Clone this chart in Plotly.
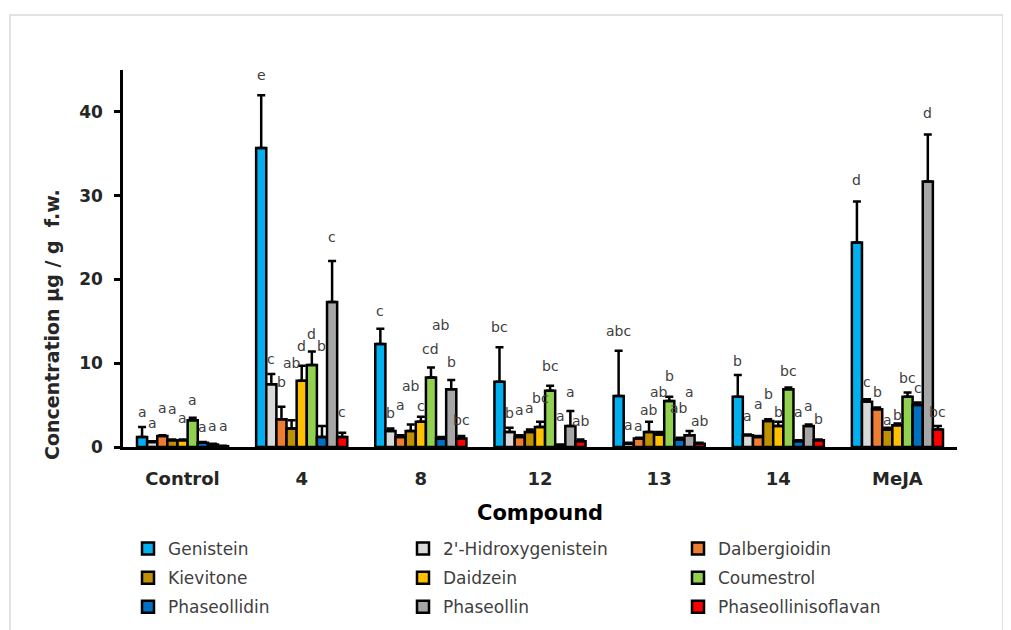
import plotly.graph_objects as go

categories = ["Control", "4", "8", "12", "13", "14", "MeJA"]
series = ["Genistein", "2'-Hidroxygenistein", "Dalbergioidin", "Kievitone", "Daidzein",
          "Coumestrol", "Phaseollidin", "Phaseollin", "Phaseollinisoflavan"]

genistein = [1.2, 35.7, 12.3, 7.8, 6.1, 6.0, 24.4]
hidroxygenistein = [0.6, 7.5, 1.9, 1.8, 0.4, 1.4, 5.4]
dalbergioidin = [1.3, 3.3, 1.2, 1.2, 1.0, 1.2, 4.5]
kievitone = [0.8, 2.2, 1.9, 1.8, 1.8, 3.1, 2.1]
daidzein = [0.8, 7.9, 3.0, 2.4, 1.5, 2.5, 2.6]
coumestrol = [3.2, 9.8, 8.3, 6.7, 5.5, 6.9, 6.0]
phaseollidin = [0.5, 1.2, 1.0, 0.2, 0.9, 0.7, 5.0]
phaseollin = [0.3, 17.3, 6.9, 2.5, 1.4, 2.5, 31.7]
phaseollinisoflavan = [0.1, 1.2, 1.0, 0.7, 0.4, 0.8, 2.1]

err_genistein = [1.2, 6.3, 1.8, 4.1, 5.4, 2.6, 4.9]
err_hidroxygenistein = [0.1, 1.2, 0.3, 0.5, 0.1, 0.1, 0.3]
err_dalbergioidin = [0.1, 1.5, 0.2, 0.2, 0.1, 0.1, 0.2]
err_kievitone = [0.1, 1.0, 0.8, 0.3, 1.2, 0.2, 0.2]
err_daidzein = [0.1, 1.8, 0.6, 0.6, 0.3, 0.5, 0.2]
err_coumestrol = [0.3, 1.6, 1.2, 0.6, 0.5, 0.2, 0.5]
err_phaseollidin = [0.1, 1.3, 0.2, 0.1, 0.2, 0.1, 0.3]
err_phaseollin = [0.1, 4.9, 1.1, 1.8, 0.5, 0.2, 5.6]
err_phaseollinisoflavan = [0.05, 0.5, 0.3, 0.2, 0.1, 0.1, 0.4]

let_genistein = ["a", "e", "c", "bc", "abc", "b", "d"]
let_hidroxygenistein = ["a", "c", "b", "b", "a", "a", "c"]
let_dalbergioidin = ["a", "b", "a", "a", "a", "a", "b"]
let_kievitone = ["a", "ab", "ab", "a", "ab", "b", "a"]
let_daidzein = ["a", "d", "c", "bc", "ab", "b", "b"]
let_coumestrol = ["a", "d", "cd", "bc", "b", "bc", "bc"]
let_phaseollidin = ["a", "b", "ab", "a", "ab", "a", "c"]
let_phaseollin = ["a", "c", "b", "a", "a", "a", "d"]
let_phaseollinisoflavan = ["a", "c", "bc", "ab", "ab", "b", "bc"]

values = [genistein, hidroxygenistein, dalbergioidin, kievitone, daidzein,
          coumestrol, phaseollidin, phaseollin, phaseollinisoflavan]
errors = [err_genistein, err_hidroxygenistein, err_dalbergioidin, err_kievitone, err_daidzein,
          err_coumestrol, err_phaseollidin, err_phaseollin, err_phaseollinisoflavan]
letters = [let_genistein, let_hidroxygenistein, let_dalbergioidin, let_kievitone, let_daidzein,
           let_coumestrol, let_phaseollidin, let_phaseollin, let_phaseollinisoflavan]

# ---- style ----
colors = ["#00B0F0", "#D9D9D9", "#ED7D31", "#BF9000", "#FFC000",
          "#92D050", "#0070C0", "#A6A6A6", "#FF0000"]
# label offsets, pixels above the error-bar top
label_pad = [
    [15, 20, 18, 20, 20, 14, 22],
    [18, 15, 16, 15, 18, 18, 17],
    [27, 25, 30, 25, 12, 32, 16],
    [30, 57, 38, 21, 12, 25, 8],
    [21, 20, 11, 24, 40, 10, 9],
    [18, 17, 18, 20, 21, 17, 15],
    [15, 80, 112, 28, 30, 28, 15],
    [18, 24, 18, 19, 39, 18, 22],
    [20, 21, 16, 18, 22, 20, 14],
]
legend_ids = ["legend", "legend2", "legend3"]  # legend column for each series: index % 3

FONT = "DejaVu Sans"
BARGAP = 0.235
PAGE = 8  # page body margin of the html page
W, H = 1011, 630
# plot area in screen pixels: x 123..957, y 70..447
L, T = 123 - PAGE, 70 - PAGE
R = W - (957 - PAGE)
B = H - (447 - PAGE)
pw, ph = W - L - R, H - T - B


def px_x(x):
    return (x - PAGE - L) / pw


def px_y(y):
    return (H - B - (y - PAGE)) / ph


fig = go.Figure()
for i, (name, v, e, c) in enumerate(zip(series, values, errors, colors)):
    fig.add_trace(go.Bar(
        name=name, x=categories, y=v,
        legend=legend_ids[i % 3], legendgroup=name,
        marker=dict(color=c, line=dict(color="black", width=2.5)),
        error_y=dict(type="data", array=e, arrayminus=[0] * len(e), symmetric=False,
                     color="black", thickness=2.5, width=4),
    ))

n = len(series)
slot = (1 - BARGAP) / n
annotations = []
for si in range(n):
    for ci in range(len(categories)):
        annotations.append(dict(
            x=ci + (si - (n - 1) / 2) * slot, y=values[si][ci] + errors[si][ci],
            xref="x", yref="y", text=letters[si][ci], showarrow=False,
            xanchor="center", yanchor="middle", yshift=label_pad[si][ci],
            font=dict(family=FONT, size=14, color="#404040"),
        ))

annotations.append(dict(
    x=px_x(52), y=px_y(325), xref="paper", yref="paper", showarrow=False,
    xanchor="center", yanchor="middle",
    text="<b>Concentration µg / g\u00a0 f.w.</b>", textangle=-90,
    font=dict(family=FONT, size=19, color="#262626"),
))
annotations.append(dict(
    x=0.5, y=px_y(513), xref="paper", yref="paper", showarrow=False,
    xanchor="center", yanchor="middle",
    text="<b>Compound</b>",
    font=dict(family=FONT, size=21, color="#000000"),
))

legend_style = dict(orientation="v", xanchor="left", yanchor="top", traceorder="grouped",
                    tracegroupgap=4, bgcolor="rgba(0,0,0,0)",
                    font=dict(family=FONT, size=17, color="#404040"))
leg_y = px_y(531)

fig.update_layout(
    width=W, height=H,
    margin=dict(l=L, r=R, t=T, b=B, autoexpand=False),
    paper_bgcolor="white", plot_bgcolor="white",
    barmode="group", bargap=BARGAP, bargroupgap=0,
    showlegend=True,
    legend=dict(x=px_x(128), y=leg_y, **legend_style),
    legend2=dict(x=px_x(403), y=leg_y, **legend_style),
    legend3=dict(x=px_x(678), y=leg_y, **legend_style),
    annotations=annotations,
    shapes=[dict(type="rect", xref="paper", yref="paper",
                 x0=px_x(10), x1=px_x(1003), y0=px_y(632), y1=px_y(15),
                 line=dict(color="#D9D9D9", width=1.5), fillcolor="rgba(0,0,0,0)", layer="below")],
    xaxis=dict(type="category", showline=True, linecolor="black", linewidth=2.5,
               ticks="", showgrid=False, ticklabelstandoff=14,
               tickfont=dict(family=FONT, size=18, color="#262626", weight="bold")),
    yaxis=dict(range=[0, 45], dtick=10, showline=True, linecolor="black", linewidth=2.5,
               ticks="outside", ticklen=6, tickwidth=2.5, tickcolor="black", showgrid=False,
               zeroline=False, ticklabelstandoff=8,
               tickfont=dict(family=FONT, size=17, color="#262626", weight="bold")),
)

fig.write_html("out.html")
